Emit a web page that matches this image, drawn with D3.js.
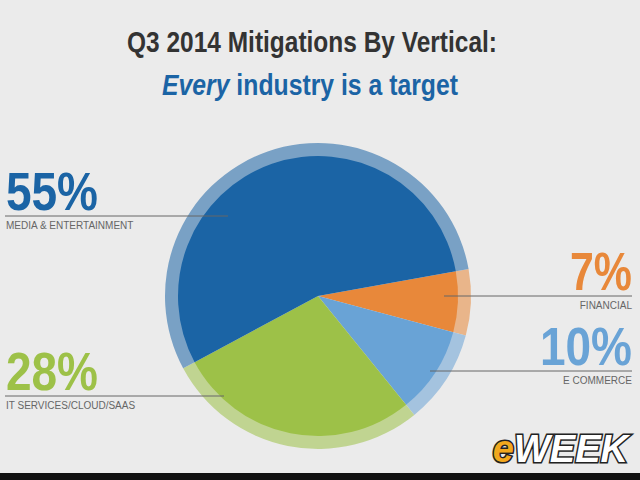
<!DOCTYPE html>
<html><head><meta charset="utf-8">
<script src="https://cdn.jsdelivr.net/npm/d3@7"></script>
<style>body{margin:0;background:#ebebeb;} text{font-family:"Liberation Sans Narrow","Liberation Sans",sans-serif;}</style>
</head><body>
<script>
const categories = ['FINANCIAL', 'E COMMERCE', 'IT SERVICES/CLOUD/SAAS', 'MEDIA & ENTERTAINMENT'];
const values = [7, 10, 28, 55];
const colors = ['#e8883a', '#69a3d6', '#9dc148', '#1b64a5'];
const labels = ['7%', '10%', '28%', '55%'];

const w = 640, h = 480;
const cx = 318, cy = 296;
const svg = d3.select('body').append('svg').attr('width', w).attr('height', h);
svg.append('rect').attr('width', w).attr('height', h).attr('fill', '#ebebeb');
svg.append('rect').attr('y', 473).attr('width', w).attr('height', 7).attr('fill', '#111');

svg.append('text').attr('x', 127).attr('y', 52)
  .attr('font-size', 30).attr('font-weight', 'bold').attr('fill', '#333')
  .attr('textLength', 370).attr('lengthAdjust', 'spacingAndGlyphs')
  .text('Q3 2014 Mitigations By Vertical:');
const sub = svg.append('text').attr('x', 162).attr('y', 95)
  .attr('font-size', 30).attr('font-weight', 'bold').attr('fill', '#1b64a5')
  .attr('textLength', 296).attr('lengthAdjust', 'spacingAndGlyphs');
sub.append('tspan').attr('font-style', 'italic').text('Every');
sub.append('tspan').text(' industry is a target');

const start = 79.8 * Math.PI / 180;
const pie = d3.pie().sort(null).value(d => d).startAngle(start).endAngle(start + 2 * Math.PI);
const arcs = pie(values);
const g = svg.append('g').attr('transform', `translate(${cx},${cy})`);
g.selectAll('.ring').data(arcs).enter().append('path')
  .attr('d', d3.arc().innerRadius(139).outerRadius(153))
  .attr('fill', (d, i) => d3.interpolateRgb(colors[i], '#ebebeb')(0.45));
g.selectAll('.slice').data(arcs).enter().append('path')
  .attr('d', d3.arc().innerRadius(0).outerRadius(140))
  .attr('fill', (d, i) => colors[i]);

// label layout: [anchor, x, baseline y, line x1, line x2]
const lay = [
  ['end', 632, 290, 444, 632],
  ['end', 632, 365, 430, 632],
  ['start', 6, 390, 5, 224],
  ['start', 6, 210, 5, 228]
];
lay.forEach((l, i) => {
  svg.append('text').attr('x', l[1]).attr('y', l[2]).attr('text-anchor', l[0])
    .attr('font-size', 54).attr('font-weight', 'bold').attr('fill', colors[i])
    .attr('textLength', labels[i].length === 2 ? 62 : 92).attr('lengthAdjust', 'spacingAndGlyphs')
    .text(labels[i]);
  svg.append('line').attr('x1', l[3]).attr('x2', l[4]).attr('y1', l[2] + 6).attr('y2', l[2] + 6)
    .attr('stroke', '#666').attr('stroke-width', 1);
  svg.append('text').attr('x', l[0] === 'end' ? l[1] : 6).attr('y', l[2] + 19).attr('text-anchor', l[0])
    .attr('font-size', 10).attr('fill', '#666').style('font-family', 'Liberation Sans, sans-serif')
    .text(categories[i]);
});

const logo = svg.append('text').attr('x', 628).attr('y', 462).attr('text-anchor', 'end')
  .attr('font-size', 38).attr('font-weight', 'bold').attr('font-style', 'italic')
  .attr('stroke', '#222').attr('stroke-width', 3).attr('paint-order', 'stroke');
logo.append('tspan').attr('fill', '#f2a81d').text('e');
logo.append('tspan').attr('fill', '#fff').text('WEEK');
</script>
</body></html>
